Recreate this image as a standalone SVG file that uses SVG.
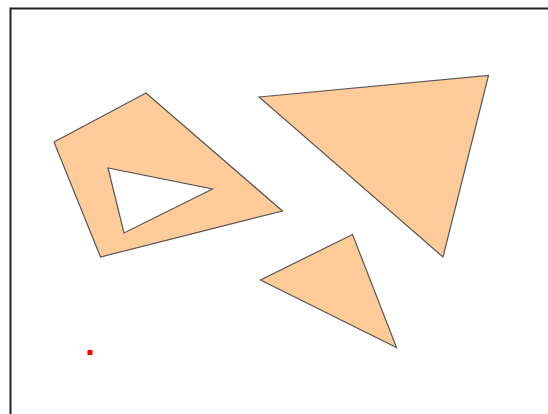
<svg xmlns="http://www.w3.org/2000/svg" width="548" height="414" viewBox="0 0 548 414">
<style>
.shape{fill:#FFCC99;stroke:#555;stroke-width:1.2;fill-rule:evenodd;stroke-linejoin:miter}
</style>
<rect x="0" y="0" width="548" height="414" fill="#fff"/>
<rect x="10.5" y="8.5" width="560" height="430" fill="none" stroke="#222" stroke-width="2"/>
<g id="quad"><path class="shape" d="M146,93 L54,142 L100.5,257 L282.5,211 Z M108,168 L124,233 L212.5,189 Z"/></g>
<g id="big-triangle"><path class="shape" d="M259,97 L488.5,75.5 L443,257 Z"/></g>
<g id="small-triangle"><path class="shape" d="M352.5,234.5 L260.5,280 L396.5,347.5 Z"/></g>
<g id="dot"><rect x="87.5" y="350" width="5" height="5" fill="#f00"/></g>
</svg>
